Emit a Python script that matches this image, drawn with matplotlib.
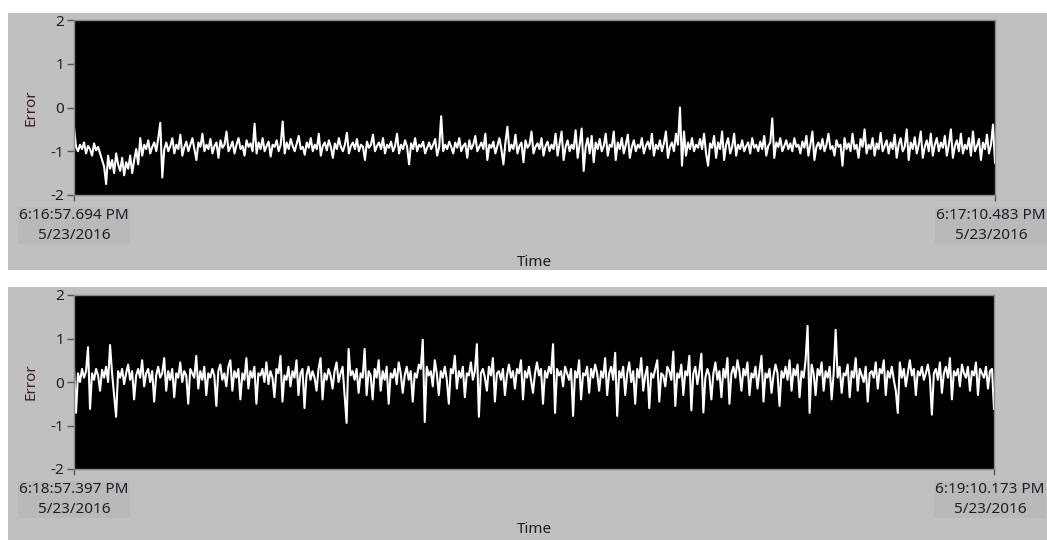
import numpy as np
import matplotlib as mpl
import matplotlib.pyplot as plt
from matplotlib.patches import Rectangle

# Error values (about one value every 2 px)
error_run1 = [
    -0.45, -0.9, -1.0, -0.85, -0.95, -0.8, -1.05, -0.88, -0.95, -1.1, -0.82, -0.98, -0.9, -1.05, -1.2, -1.35, -1.75, -1.1, -1.4, -1.2,
    -1.5, -1.05, -1.3, -1.45, -1.15, -1.55, -1.25, -1.4, -1.1, -1.5, -1.2, -0.95, -1.3, -0.7, -1.1, -0.85, -0.95, -0.75, -1.05, -0.9,
    -0.8, -1.0, -0.7, -0.35, -1.6, -0.95, -0.8, -1.0, -0.88, -0.7, -1.05, -0.85, -0.95, -0.62, -1.1, -0.9, -0.78, -1.0, -0.85, -0.7,
    -0.95, -1.2, -0.8, -0.9, -0.6, -1.0, -0.85, -0.95, -0.72, -1.05, -0.88, -0.8, -1.15, -0.75, -0.92, -0.85, -0.55, -1.0, -0.9, -0.78,
    -1.05, -0.85, -0.7, -0.95, -0.88, -1.1, -0.75, -0.9, -0.82, -1.0, -0.37, -1.05, -0.8, -0.95, -0.7, -1.0, -0.88, -0.78, -1.12, -0.85,
    -0.9, -0.75, -1.0, -0.85, -0.32, -1.05, -0.8, -0.95, -0.72, -0.88, -1.0, -0.82, -0.65, -0.95, -0.9, -1.08, -0.8, -0.92, -0.7, -1.0,
    -0.85, -0.95, -0.6, -1.1, -0.88, -0.8, -0.98, -0.75, -0.9, -1.15, -0.82, -0.95, -0.7, -0.9, -1.0, -0.85, -0.58, -1.05, -0.88, -0.8,
    -0.95, -0.72, -1.0, -0.85, -0.9, -1.2, -0.78, -0.92, -0.85, -0.62, -1.0, -0.88, -0.8, -0.95, -0.7, -1.05, -0.85, -0.92, -0.78, -1.0,
    -0.88, -0.6, -1.05, -0.85, -0.95, -0.75, -0.9, -1.3, -0.82, -0.95, -0.7, -1.0, -0.85, -0.9, -0.78, -1.05, -0.92, -0.8, -0.95, -0.85,
    -0.72, -1.1, -0.9, -0.2, -1.0, -0.85, -0.95, -0.78, -0.9, -1.05, -0.8, -0.92, -0.7, -1.0, -0.88, -0.82, -1.15, -0.75, -0.95, -0.85,
    -0.65, -1.0, -0.9, -0.8, -0.95, -0.6, -1.2, -0.85, -0.92, -0.78, -1.05, -0.88, -0.7, -0.95, -1.3, -0.8, -0.44, -1.0, -0.85, -0.95,
    -0.62, -1.05, -0.88, -0.8, -1.25, -0.75, -0.92, -0.85, -0.55, -1.05, -0.9, -0.82, -0.95, -0.7, -1.1, -0.88, -0.78, -1.0, -0.85, -0.95,
    -0.6, -1.1, -0.82, -0.55, -1.2, -0.9, -0.75, -1.0, -0.85, -0.95, -0.52, -1.15, -0.85, -0.48, -1.45, -0.9, -0.7, -1.05, -0.65, -1.25,
    -0.8, -0.95, -0.72, -1.0, -0.88, -0.6, -1.1, -0.85, -0.9, -0.55, -1.2, -0.8, -0.95, -0.7, -1.05, -0.85, -0.62, -1.15, -0.9, -0.75,
    -1.0, -0.85, -0.92, -0.7, -1.05, -0.88, -0.78, -0.95, -0.6, -1.1, -0.85, -0.95, -0.75, -1.0, -0.82, -0.55, -1.15, -0.9, -0.8, -1.0,
    -0.6, -0.85, 0.0, -1.33, -0.55, -1.1, -0.8, -0.95, -0.7, -1.0, -0.85, -0.92, -0.72, -0.95, -0.6, -1.05, -1.33, -0.82, -0.92, -0.65,
    -1.15, -0.8, -0.95, -0.55, -1.2, -0.85, -0.7, -1.05, -0.9, -0.6, -1.1, -0.85, -0.95, -0.75, -1.0, -0.88, -0.8, -1.05, -0.7, -0.92,
    -0.85, -1.0, -0.78, -0.95, -0.65, -1.1, -0.88, -0.8, -0.25, -1.15, -0.8, -0.9, -0.7, -1.0, -0.88, -0.75, -0.95, -0.82, -1.0, -0.7,
    -0.9, -0.85, -1.05, -0.78, -0.92, -0.65, -1.1, -0.85, -0.55, -1.2, -0.9, -0.8, -0.95, -0.72, -1.0, -0.85, -0.6, -0.95, -0.88, -1.1,
    -0.75, -0.9, -0.85, -1.33, -0.7, -0.95, -0.82, -1.0, -0.6, -0.95, -0.85, -1.15, -0.72, -0.9, -0.5, -1.05, -0.85, -0.95, -0.7, -1.1,
    -0.82, -0.95, -0.58, -1.0, -0.88, -0.75, -1.05, -0.8, -0.95, -0.62, -1.15, -0.85, -0.7, -1.0, -0.9, -0.5, -1.2, -0.8, -0.95, -0.68,
    -1.05, -0.85, -0.55, -1.15, -0.9, -0.75, -1.0, -0.6, -1.1, -0.85, -0.7, -1.0, -0.8, -0.92, -0.65, -1.1, -0.85, -0.5, -1.15, -0.88,
    -0.75, -1.0, -0.6, -1.05, -0.85, -0.95, -0.7, -1.1, -0.55, -1.0, -0.88, -0.72, -1.2, -0.8, -0.95, -0.62, -1.05, -0.85, -0.39, -1.26,
]

error_run2 = [
    0.35, -0.71, 0.2, 0.0, 0.3, 0.1, 0.25, 0.8, -0.62, 0.2, 0.05, 0.3, 0.15, -0.2, 0.28, 0.1, 0.35, 0.0, 0.85, 0.2,
    -0.3, -0.8, 0.25, 0.1, 0.3, -0.05, 0.2, 0.4, 0.05, 0.25, -0.4, 0.15, 0.3, 0.1, 0.5, -0.1, 0.2, 0.3, 0.0, 0.25,
    -0.45, 0.15, 0.35, 0.1, 0.2, 0.55, -0.2, 0.25, 0.05, 0.3, -0.35, 0.2, 0.1, 0.45, 0.0, 0.25, 0.15, -0.5, 0.3, 0.2,
    0.1, 0.6, -0.15, 0.25, 0.05, 0.35, -0.3, 0.2, 0.1, 0.3, 0.15, -0.55, 0.25, 0.4, 0.05, 0.2, -0.1, 0.35, 0.5, -0.2,
    0.25, 0.1, 0.3, -0.4, 0.2, 0.05, 0.55, -0.15, 0.25, 0.1, 0.35, -0.5, 0.2, 0.15, 0.3, 0.0, 0.45, -0.05, 0.25, 0.1,
    -0.35, 0.3, 0.2, 0.6, -0.45, 0.15, 0.05, 0.35, -0.1, 0.25, 0.1, 0.5, -0.3, 0.2, 0.3, -0.6, 0.15, 0.35, 0.05, 0.25,
    0.1, -0.2, 0.3, 0.55, -0.4, 0.2, 0.05, 0.3, 0.15, -0.15, 0.25, 0.45, 0.0, 0.2, 0.35, -0.3, -0.94, 0.76, 0.15, 0.25,
    0.05, 0.3, -0.25, 0.2, 0.1, 0.76, -0.3, 0.25, 0.15, -0.4, 0.3, 0.1, 0.5, -0.2, 0.25, 0.05, 0.35, -0.5, 0.2, 0.1,
    0.3, -0.05, 0.45, 0.2, -0.25, 0.15, 0.35, 0.05, 0.25, -0.45, 0.2, 0.1, 0.4, 0.3, 0.97, -0.92, 0.35, 0.15, 0.25, -0.1,
    0.5, 0.2, -0.3, 0.25, 0.1, 0.35, 0.05, -0.5, 0.3, 0.2, 0.6, -0.15, 0.25, 0.1, 0.35, -0.35, 0.2, 0.15, 0.45, 0.05,
    0.25, 0.87, -0.8, 0.2, 0.3, 0.1, -0.2, 0.35, 0.15, 0.55, -0.45, 0.2, 0.25, 0.05, 0.3, -0.3, 0.15, 0.4, 0.1, 0.25,
    -0.15, 0.3, 0.2, 0.5, -0.4, 0.25, 0.1, 0.35, 0.05, -0.25, 0.2, 0.45, 0.15, 0.3, -0.5, 0.25, 0.1, 0.35, 0.2, 0.87,
    -0.71, 0.3, 0.15, 0.25, -0.1, 0.35, 0.2, 0.05, 0.3, -0.78, 0.25, 0.1, 0.5, -0.4, 0.2, 0.15, 0.35, -0.25, 0.3, 0.1,
    0.4, 0.2, -0.2, 0.25, 0.1, 0.55, -0.3, 0.2, 0.35, 0.05, 0.67, -0.78, 0.25, 0.1, 0.35, -0.3, 0.2, 0.45, 0.0, 0.25,
    -0.5, 0.3, 0.1, 0.55, -0.2, 0.15, 0.35, -0.6, 0.2, 0.1, 0.3, 0.5, -0.45, 0.2, 0.15, -0.1, 0.35, 0.25, 0.05, 0.7,
    -0.55, 0.2, 0.1, 0.4, -0.3, 0.25, 0.15, 0.6, -0.65, 0.2, 0.35, -0.05, 0.25, 0.65, -0.7, 0.1, 0.3, 0.15, -0.4, 0.2,
    0.45, 0.05, 0.25, -0.35, 0.3, 0.1, 0.55, -0.5, 0.2, 0.35, 0.1, 0.5, 0.25, -0.2, 0.3, 0.15, 0.45, -0.3, 0.2, 0.1,
    0.35, -0.15, 0.25, 0.6, -0.45, 0.2, 0.1, 0.3, -0.25, 0.15, 0.4, 0.2, -0.55, 0.25, 0.1, 0.35, 0.05, 0.5, -0.2, 0.3,
    0.15, 0.4, -0.35, 0.25, 0.1, 0.5, 1.29, -0.71, 0.4, 0.2, -0.3, 0.3, 0.15, 0.45, -0.2, 0.25, 0.1, 0.35, -0.4, 0.2,
    1.2, 0.1, 0.35, -0.25, 0.2, 0.15, 0.4, -0.35, 0.25, 0.1, 0.55, -0.2, 0.3, 0.15, 0.0, 0.35, -0.45, 0.2, 0.25, 0.1,
    0.45, -0.15, 0.3, 0.2, 0.5, -0.3, 0.25, 0.1, 0.35, 0.05, -0.2, -0.71, 0.45, 0.1, 0.3, -0.1, 0.2, 0.5, 0.15, 0.3,
    -0.3, 0.25, 0.15, 0.35, 0.05, 0.2, 0.4, 0.1, -0.75, 0.2, 0.3, 0.05, 0.45, -0.25, 0.2, 0.35, 0.1, 0.55, -0.4, 0.25,
    0.15, 0.3, -0.1, 0.4, 0.2, 0.1, 0.35, -0.2, 0.25, 0.15, 0.45, -0.3, 0.3, 0.2, 0.1, 0.35, -0.15, 0.25, 0.3, -0.62,
]

# run length in seconds (end - start time on each chart)
run_spans = [12.789, 12.776]
start_labels = ["6:16:57.694 PM\n5/23/2016", "6:18:57.397 PM\n5/23/2016"]
end_labels = ["6:17:10.483 PM\n5/23/2016", "6:19:10.173 PM\n5/23/2016"]
y_ticks = [-2, -1, 0, 1, 2]

W, H = 1047, 540
PANEL = "#c0c0c0"
LABEL_BOX = "#b9b9b9"
TEXT = "#1e1e2a"

mpl.rcParams["font.family"] = ["Noto Sans", "DejaVu Sans"]
mpl.rcParams["font.size"] = 11

fig = plt.figure(figsize=(W / 100, H / 100), dpi=100, facecolor="white")

def px_rect(x0, y0, x1, y1):
    # pixel box (top-left origin) -> figure fraction [left, bottom, width, height]
    return [x0 / W, 1 - y1 / H, (x1 - x0) / W, (y1 - y0) / H]

# gray panels behind each chart
for box in ((8, 13, W, 270), (8, 287, W, H)):
    l, b, w, h = px_rect(*box)
    fig.patches.append(Rectangle((l, b), w, h, transform=fig.transFigure,
                                 facecolor=PANEL, edgecolor="none", zorder=-10))

axes_boxes = [(74, 20, 995, 195), (74, 295, 994, 469)]
time_pads = [33, 28]

for values, span, lab0, lab1, box, tpad in zip((error_run1, error_run2), run_spans,
                                               start_labels, end_labels, axes_boxes, time_pads):
    ax = fig.add_axes(px_rect(*box))
    ax.set_facecolor("black")
    t = np.linspace(0, span, len(values))
    ax.plot(t, values, color="white", lw=1.5)

    ax.set_xlim(0, span)
    ax.set_ylim(-2, 2)
    ax.set_yticks(y_ticks)
    ax.set_yticklabels([str(v) for v in y_ticks], color=TEXT)
    ax.set_xticks([0, span])
    ax.set_xticklabels(["", ""])
    ax.tick_params(axis="y", length=5, width=1, color="#555555", pad=2)
    ax.tick_params(axis="x", length=4, width=1, color="#555555", pad=6)
    for s in ax.spines.values():
        s.set_color("#8a8a8a")
        s.set_linewidth(1)

    # start / end timestamps under the end ticks (LabVIEW style, on a gray box)
    for xpos, lab, dx in ((0, lab0, 0), (span, lab1, -4)):
        ax.annotate(lab, xy=(xpos, 0), xycoords=("data", "axes fraction"),
                    xytext=(dx, -13), textcoords="offset pixels",
                    ha="center", va="top", color=TEXT, linespacing=1.45,
                    annotation_clip=False,
                    bbox=dict(facecolor=LABEL_BOX, edgecolor="none", pad=1.0))

    ax.set_ylabel("Error", color="#3a2020", labelpad=9)
    ax.set_xlabel("Time", color=TEXT, labelpad=tpad)

fig.savefig("out.png", dpi=100, facecolor="white")
